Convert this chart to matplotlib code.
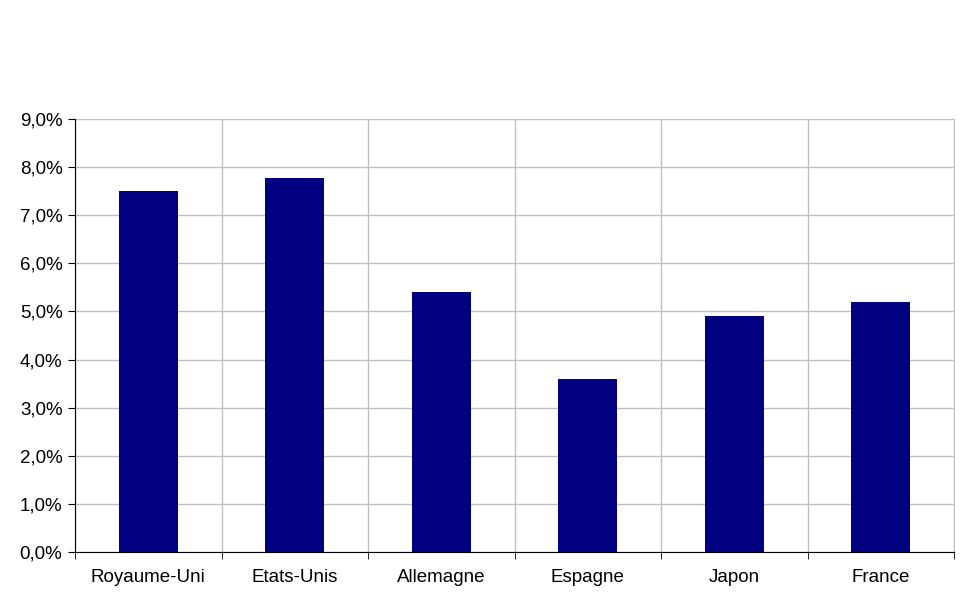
import numpy as np
import matplotlib
matplotlib.use('Agg')
import matplotlib.pyplot as plt
from matplotlib.ticker import FuncFormatter, FixedLocator

pays = ['Royaume-Uni', 'Etats-Unis', 'Allemagne', 'Espagne', 'Japon', 'France']
valeurs = [7.5, 7.78, 5.4, 3.6, 4.9, 5.2]

plt.rcParams['font.family'] = ['Liberation Sans', 'DejaVu Sans']

fig = plt.figure(figsize=(9.7, 6.05), dpi=100)
ax = fig.add_axes([75/970, 53/605, 879/970, 433/605])

x = np.arange(len(pays))
ax.bar(x, valeurs, width=0.4, color='#000080', zorder=3)

ax.set_xlim(-0.5, len(pays) - 0.5)
ax.set_ylim(0, 9)
ax.set_yticks(np.arange(0, 10, 1))
ax.yaxis.set_major_formatter(FuncFormatter(lambda v, p: f'{v:.1f}%'.replace('.', ',')))

ax.set_xticks(x)
ax.set_xticklabels(pays)
ax.xaxis.set_minor_locator(FixedLocator(np.arange(-0.5, len(pays), 1)))
ax.tick_params(axis='x', which='major', length=0, pad=12)
ax.tick_params(axis='x', which='minor', length=5, direction='out', color='black')
ax.tick_params(axis='y', length=5, direction='out', color='black', pad=4)
ax.tick_params(labelsize=13.5)

ax.grid(axis='y', which='major', color='#c0c0c0', linewidth=1, zorder=0)
ax.grid(axis='x', which='minor', color='#c0c0c0', linewidth=1, zorder=0)

for s in ['top', 'right']:
    ax.spines[s].set_color('#c0c0c0')
for s in ['left', 'bottom']:
    ax.spines[s].set_color('black')
    ax.spines[s].set_zorder(4)

fig.savefig('out.png', dpi=100)
